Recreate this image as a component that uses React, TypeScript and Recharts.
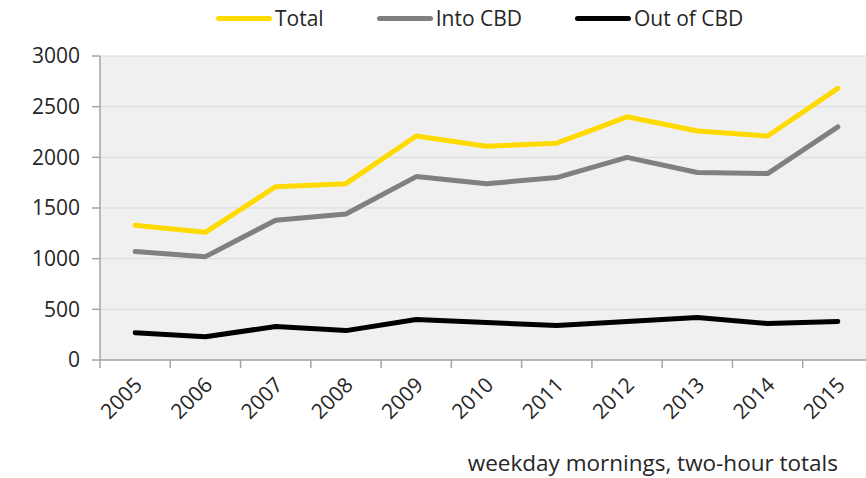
import React from "react";
import { LineChart, Line, XAxis, YAxis, CartesianGrid } from "recharts";

const years = ["2005", "2006", "2007", "2008", "2009", "2010", "2011", "2012", "2013", "2014", "2015"];
const total = [1330, 1260, 1710, 1740, 2210, 2110, 2140, 2400, 2260, 2210, 2680];
const intoCBD = [1070, 1020, 1380, 1440, 1810, 1740, 1800, 2000, 1850, 1840, 2300];
const outOfCBD = [270, 230, 330, 290, 400, 370, 340, 380, 420, 360, 380];
const yTicks = [0, 500, 1000, 1500, 2000, 2500, 3000];
const seriesNames = ["Total", "Into CBD", "Out of CBD"];
const seriesColors = ["#FFDA00", "#808080", "#000000"];
const footnote = "weekday mornings, two-hour totals";

const data = years.map((y, i) => ({
  year: y,
  total: total[i],
  into: intoCBD[i],
  out: outOfCBD[i],
}));

const FONT = "'Open Sans', sans-serif";
const TEXT = "#262626";
const AXIS = "#a6a6a6";
const CHART_W = 873;
const LEFT = 100;
const HALF_BAND = (CHART_W - LEFT) / years.length / 2;

const XTick = (props: any) => {
  const { x, y, payload } = props;
  return (
    <g>
      <line x1={x - HALF_BAND} x2={x - HALF_BAND} y1={y} y2={y + 8} stroke={AXIS} strokeWidth={1.5} />
      <text
        x={x + 3}
        y={y + 21}
        textAnchor="end"
        fill={TEXT}
        fontSize={21}
        fontFamily={FONT}
        transform={`rotate(-45, ${x + 3}, ${y + 21})`}
        dy="0.36em"
      >
        {payload.value}
      </text>
    </g>
  );
};

export default function App() {
  return (
    <div style={{ position: "absolute", left: 0, top: 0, width: 866, height: 478, overflow: "hidden", background: "#fff" }}>
      <LineChart
        width={CHART_W}
        height={478}
        data={data}
        margin={{ top: 56, right: 0, left: 0, bottom: 58 }}
      >
        <CartesianGrid vertical={false} stroke="#d9d9d9" fill="#f0f0f0" />
        <XAxis
          dataKey="year"
          height={60}
          interval={0}
          padding={{ left: HALF_BAND, right: HALF_BAND }}
          tickLine={false}
          tickSize={0}
          tickMargin={0}
          axisLine={{ stroke: AXIS, strokeWidth: 1.5 }}
          tick={<XTick />}
        />
        <YAxis
          width={LEFT}
          domain={[0, 3000]}
          ticks={yTicks}
          interval={0}
          tickSize={8}
          tickMargin={12}
          tickLine={{ stroke: AXIS, strokeWidth: 1.5 }}
          axisLine={{ stroke: AXIS, strokeWidth: 1.5 }}
          tick={{ fill: TEXT, fontSize: 21, fontFamily: FONT }}
        />
        <Line type="linear" dataKey="total" name={seriesNames[0]} stroke={seriesColors[0]} strokeWidth={5} dot={false} isAnimationActive={false} strokeLinecap="round" strokeLinejoin="round" />
        <Line type="linear" dataKey="into" name={seriesNames[1]} stroke={seriesColors[1]} strokeWidth={5} dot={false} isAnimationActive={false} strokeLinecap="round" strokeLinejoin="round" />
        <Line type="linear" dataKey="out" name={seriesNames[2]} stroke={seriesColors[2]} strokeWidth={5} dot={false} isAnimationActive={false} strokeLinecap="round" strokeLinejoin="round" />
      </LineChart>
      <div
        style={{
          position: "absolute",
          left: 216,
          top: 4,
          display: "flex",
          alignItems: "center",
          fontFamily: FONT,
          fontSize: 21,
          color: TEXT,
        }}
      >
        {seriesNames.map((n, i) => (
          <div key={n} style={{ display: "flex", alignItems: "center", marginRight: i < 2 ? 53 : 0 }}>
            <div style={{ width: 56, height: 5, borderRadius: 3, background: seriesColors[i], marginRight: 3 }} />
            <span>{n}</span>
          </div>
        ))}
      </div>
      <div
        style={{
          position: "absolute",
          right: 28,
          top: 447,
          fontFamily: FONT,
          fontSize: 22.5,
          color: TEXT,
          whiteSpace: "nowrap",
        }}
      >
        {footnote}
      </div>
    </div>
  );
}
